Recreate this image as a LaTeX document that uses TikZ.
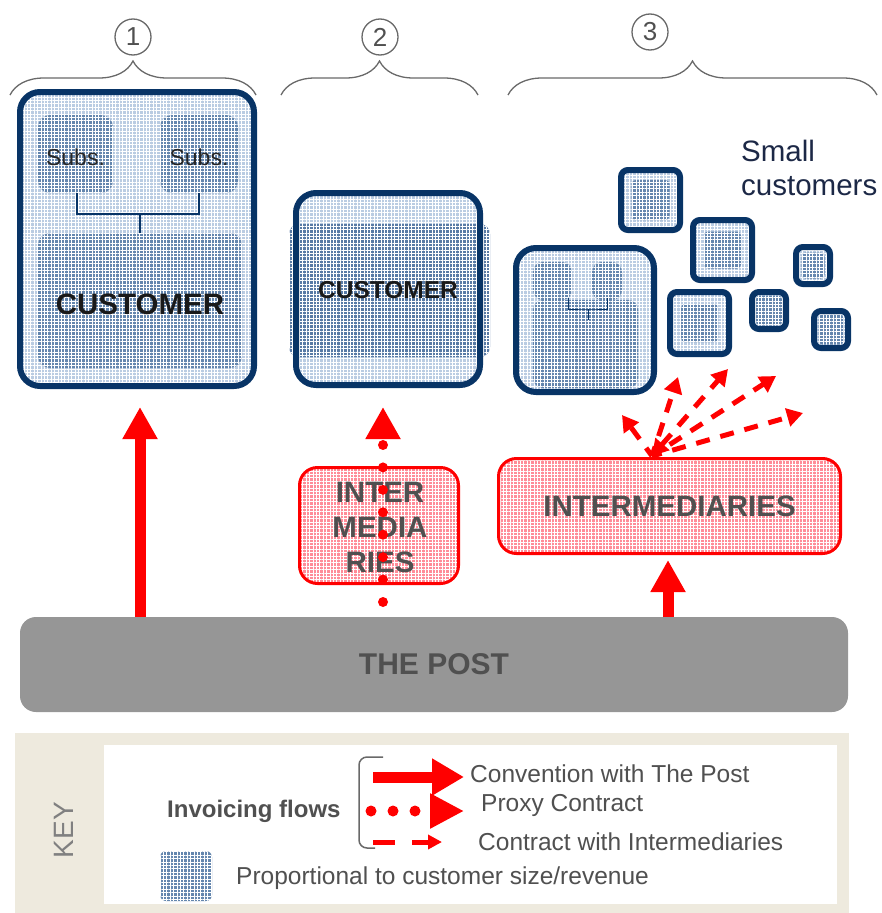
\documentclass[tikz,border=0pt]{standalone}
\usepackage{fontspec}
\setmainfont{Liberation Sans}
\usetikzlibrary{arrows.meta,patterns.meta,decorations.pathreplacing}
\definecolor{navy}{RGB}{8,52,102}
\definecolor{lightbl}{RGB}{186,204,226}
\definecolor{midbl}{RGB}{100,134,174}
\definecolor{bandbl}{RGB}{88,122,165}
\definecolor{pinkb}{RGB}{255,140,152}
\definecolor{postgray}{RGB}{150,150,150}
\definecolor{txtgray}{RGB}{80,80,80}
\definecolor{beige}{RGB}{238,234,222}
\definecolor{brgray}{RGB}{105,105,105}
\definecolor{smtxt}{RGB}{28,40,70}
\begin{document}
\begin{tikzpicture}[x=1pt,y=-1pt,
  texfill/.style={preaction={fill=#1},preaction={pattern={Hatch[angle=0,distance=3.4pt,line width=0.6pt]},pattern color=white}},
  custbox/.style={draw=navy,line width=6pt,rounded corners=20pt,texfill=lightbl,inner sep=0pt},
  custframe/.style={draw=navy,line width=6pt,rounded corners=20pt,inner sep=0pt},
  smallbox/.style={draw=navy,line width=6pt,rounded corners=7pt,texfill=lightbl,inner sep=0pt},
  innerbl/.style={texfill=midbl,rounded corners=4pt,inner sep=0pt},
  subsbox/.style={texfill=midbl,rounded corners=12pt,inner sep=0pt},
  redbox/.style={draw=red,line width=3pt,texfill=pinkb,rounded corners=18pt,inner sep=0pt},
  bigtxt/.style={font=\fontsize{29.5}{35}\selectfont\bfseries},
  numcirc/.style={circle,draw=brgray,line width=1.3pt,minimum size=36pt,inner sep=0pt,text=txtgray,font=\fontsize{26}{26}\selectfont},
  bracestyle/.style={draw=brgray,line width=1.3pt,decorate,decoration={brace,amplitude=34pt,aspect=0.5}},
  solidarr/.style={draw=red,line width=11pt,-{Triangle[width=33pt,length=32pt]}},
  dotarr/.style={draw=red,line width=10pt,line cap=round,dash pattern=on 0pt off 22.43pt,-{Triangle[width=33pt,length=32pt]}},
  dasharr/.style={draw=red,line width=5pt,dash pattern=on 14pt off 11pt,dash phase=4pt,-{Triangle[width=18pt,length=16pt]}},
  dasharr2/.style={draw=red,line width=5pt,dash pattern=on 14pt off 11pt,{Triangle[width=18pt,length=16pt]}-{Triangle[width=18pt,length=16pt]}},
  conn/.style={draw=navy,line width=1.2pt},
  keytxt/.style={font=\fontsize{24.5}{24.5}\selectfont,text=txtgray,anchor=west,inner sep=0pt}
]
\useasboundingbox (0,0) rectangle (882,913);

% numbered circles and braces
\node[numcirc] (n1) at (133,37) {1};
\node[numcirc] (n2) at (380,37) {2};
\node[numcirc] (n3) at (650,32) {3};
\coordinate (b1l) at (10,95); \coordinate (b1r) at (256,95);
\coordinate (b2l) at (281,95); \coordinate (b2r) at (478,95);
\coordinate (b3l) at (508,95); \coordinate (b3r) at (877,95);
\path[bracestyle] (b1l) -- (b1r);
\path[bracestyle] (b2l) -- (b2r);
\path[bracestyle] (b3l) -- (b3r);

% Group 1
\node[custbox,minimum width=234pt,minimum height=294pt] (c1) at (137,239) {};
\node[subsbox,minimum width=75pt,minimum height=78pt] (s1) at (75.5,154) {};
\node[subsbox,minimum width=78pt,minimum height=78pt] (s2) at (199,154) {};
\node[subsbox,minimum width=204pt,minimum height=135pt] (cin1) at (140,300.5) {};
\node[font=\fontsize{23}{23}\selectfont,text=black!85] at (75.5,157) {Subs.};
\node[font=\fontsize{23}{23}\selectfont,text=black!85] at (199,157) {Subs.};
\node[bigtxt,text=black!90] (ct1) at (140,304) {CUSTOMER};
\draw[conn] (s1.south -| 77,0) |- (140,214) -| (s2.south -| 199,0);
\draw[conn] (140,214) -- (cin1.north);

% Group 2
\node[texfill=lightbl,rounded corners=20pt,minimum width=184pt,minimum height=192pt,inner sep=0pt] (c2f) at (388,289) {};
\node[texfill=bandbl,rounded corners=10pt,minimum width=201pt,minimum height=133pt,inner sep=0pt] (band2) at (389.5,290.5) {};
\node[custframe,minimum width=184pt,minimum height=192pt] (c2) at (388,289) {};
\node[font=\fontsize{24.5}{24.5}\selectfont\bfseries,text=black!90] at (388,290) {CUSTOMER};

% Group 3 big customer
\node[custbox,minimum width=138pt,minimum height=144pt] (c3) at (585,320) {};
\node[innerbl,rounded corners=10pt,minimum width=39pt,minimum height=38pt] (s3a) at (552.5,281) {};
\node[innerbl,rounded corners=10pt,minimum width=30pt,minimum height=38pt] (s3b) at (607,281) {};
\node[innerbl,rounded corners=10pt,minimum width=105pt,minimum height=88pt] (cin3) at (585.5,344) {};
\draw[navy,line width=1pt] (568,298) |- (588,309) -| (607,298);
\draw[navy,line width=1pt] (588,309) -- (588,320);

% small customers
\node[smallbox,minimum width=59pt,minimum height=60pt] (k1) at (650.5,200) {};
\node[innerbl,minimum width=38pt,minimum height=40pt] at (k1) {};
\node[smallbox,minimum width=59pt,minimum height=60pt] (k2) at (722.5,250) {};
\node[innerbl,minimum width=37pt,minimum height=37pt] at (k2) {};
\node[smallbox,minimum width=59pt,minimum height=62pt] (k3) at (699.5,323) {};
\node[innerbl,minimum width=37pt,minimum height=38pt] at (k3) {};
\node[smallbox,minimum width=34pt,minimum height=37pt] (k4) at (813,265.5) {};
\node[innerbl,minimum width=23pt,minimum height=26pt] at (k4) {};
\node[smallbox,minimum width=34pt,minimum height=37pt] (k5) at (769,310.5) {};
\node[innerbl,minimum width=26pt,minimum height=30pt] at (k5) {};
\node[smallbox,minimum width=34pt,minimum height=37pt] (k6) at (831,329.5) {};
\node[innerbl,minimum width=25pt,minimum height=30pt] at (k6) {};
\node[font=\fontsize{29.5}{34}\selectfont,text=smtxt,align=left,anchor=north west,inner sep=0pt] (smallc) at (741,140) {Small\\customers};

% THE POST
\node[fill=postgray,rounded corners=16pt,minimum width=828pt,minimum height=95pt,inner sep=0pt,font=\fontsize{30}{30}\selectfont\bfseries,text=txtgray] (post) at (434,664.5) {THE POST};

% intermediaries
\node[redbox,minimum width=159pt,minimum height=116pt] (im2) at (379,525.5) {};
\node[bigtxt,text=txtgray,align=center] at (380,527) {INTER\\MEDIA\\RIES};
\node[redbox,minimum width=342pt,minimum height=95pt,bigtxt,text=txtgray] (im3) at (669.5,506) {INTERMEDIARIES};

% flows
\coordinate (a1s) at (140,617); \coordinate (a1e) at (140,407);
\draw[solidarr] (a1s) -- (a1e);
\coordinate (a2s) at (383,602); \coordinate (a2e) at (383,407);
\draw[dotarr] (a2s) -- (a2e);
\coordinate (a3s) at (668,617); \coordinate (a3e) at (668,560);
\draw[solidarr] (a3s) -- (a3e);

\coordinate (fan) at (652,456);
\coordinate (f1) at (622,415);
\coordinate (f2) at (678,377);
\coordinate (f3) at (728,369);
\coordinate (f4) at (776,376);
\coordinate (f5) at (803,413);
\draw[dasharr] (fan) -- (f1);
\draw[dasharr] (fan) -- (f2);
\draw[dasharr2] (fan) -- (f3);
\draw[dasharr] (fan) -- (f4);
\draw[dasharr] (fan) -- (f5);

% KEY
\fill[beige] (15,733) rectangle (849,913);
\fill[white] (104,745) rectangle (837,904);
\node[rotate=90,font=\fontsize{28}{28}\selectfont,text=gray] (key) at (64,830) {KEY};
\node[font=\fontsize{24}{24}\selectfont\bfseries,text=txtgray,anchor=west,inner sep=0pt] (inv) at (167,811) {Invoicing flows};
\draw[brgray,line width=1.5pt,rounded corners=8pt] (383,757) -- (359,757) -- (359,848) -- (375,848);
\coordinate (l1s) at (373,777); \coordinate (l1e) at (464,777);
\draw[draw=red,line width=11pt,-{Triangle[width=35pt,length=32pt]}] (l1s) -- (l1e);
\coordinate (l2s) at (371,811); \coordinate (l2e) at (464,811);
\draw[draw=red,line width=11pt,line cap=round,dash pattern=on 0pt off 22pt,-{Triangle[width=33pt,length=34pt]}] (l2s) -- (l2e);
\coordinate (l3s) at (373,842); \coordinate (l3e) at (442,842);
\draw[draw=red,line width=5pt,dash pattern=on 22pt off 17pt,-{Triangle[width=14pt,length=14pt]}] (l3s) -- (l3e);
\node[keytxt] (t1) at (470,774) {Convention with The Post};
\node[keytxt] (t2) at (481,805) {Proxy Contract};
\node[keytxt] (t3) at (478,842) {Contract with Intermediaries};
\node[texfill=midbl,rounded corners=6pt,minimum width=52pt,minimum height=50pt,inner sep=0pt] (sw) at (186,876) {};
\node[keytxt] (t4) at (236,878) {Proportional to customer size/revenue};
\end{tikzpicture}
\end{document}
